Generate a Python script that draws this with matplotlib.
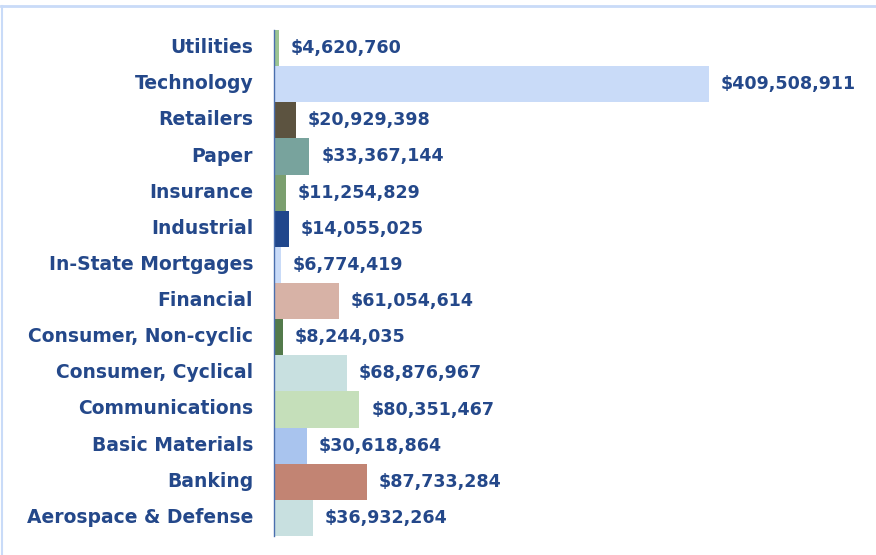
import matplotlib

matplotlib.use("Agg")

import matplotlib.pyplot as plt
from matplotlib.lines import Line2D
from matplotlib.transforms import ScaledTranslation

# top to bottom, as shown in the chart
SECTORS = [
    "Utilities",
    "Technology",
    "Retailers",
    "Paper",
    "Insurance",
    "Industrial",
    "In-State Mortgages",
    "Financial",
    "Consumer, Non-cyclic",
    "Consumer, Cyclical",
    "Communications",
    "Basic Materials",
    "Banking",
    "Aerospace & Defense",
]
AMOUNTS = [
    4620760,
    409508911,
    20929398,
    33367144,
    11254829,
    14055025,
    6774419,
    61054614,
    8244035,
    68876967,
    80351467,
    30618864,
    87733284,
    36932264,
]
COLORS = [
    "#9cc492",
    "#c9dbf8",
    "#5c5340",
    "#78a39d",
    "#7b9f6f",
    "#21478c",
    "#c9dbf8",
    "#d7b2a6",
    "#537a4b",
    "#c8e0e0",
    "#c5dfba",
    "#a9c4ee",
    "#c28473",
    "#c8e0e0",
]

TEXT_COLOR = "#24488a"

fig = plt.figure(figsize=(8.76, 5.55), dpi=100)
ax = fig.add_axes([274 / 876, 1 - 536 / 555, 596 / 876, 506 / 555])

ypos = list(range(len(SECTORS)))
ax.barh(ypos, AMOUNTS, height=1.0, color=COLORS, edgecolor="none")
ax.set_ylim(len(SECTORS) - 0.5, -0.5)
ax.set_xlim(0, 596 / 435 * 409.5e6)

ax.set_yticks(ypos)
ax.set_yticklabels(SECTORS, color=TEXT_COLOR, fontsize=13.5, fontweight="bold")
ax.tick_params(axis="y", length=0, pad=15)
ax.set_xticks([])
# category names sit a touch above the bar centres
lift = ScaledTranslation(0, 2.5 / 100, fig.dpi_scale_trans)
for lab in ax.get_yticklabels():
    lab.set_transform(lab.get_transform() + lift)

for y, v in zip(ypos, AMOUNTS):
    ax.annotate(
        "${:,}".format(v), (v, y), xytext=(8.5, 0), textcoords="offset points",
        ha="left", va="center", color=TEXT_COLOR, fontsize=12.6, fontweight="bold",
    )

for side in ["top", "right", "bottom"]:
    ax.spines[side].set_visible(False)
ax.spines["left"].set_color("#4a6fae")
ax.spines["left"].set_linewidth(1.0)

# light frame round the chart area
fig.add_artist(Line2D([0.001, 1], [1 - 6 / 555, 1 - 6 / 555], color="#c9dbf8", lw=2))
fig.add_artist(Line2D([1.5 / 876, 1.5 / 876], [0, 1 - 6 / 555], color="#c9dbf8", lw=1.5))

fig.savefig("out.png", dpi=100)
